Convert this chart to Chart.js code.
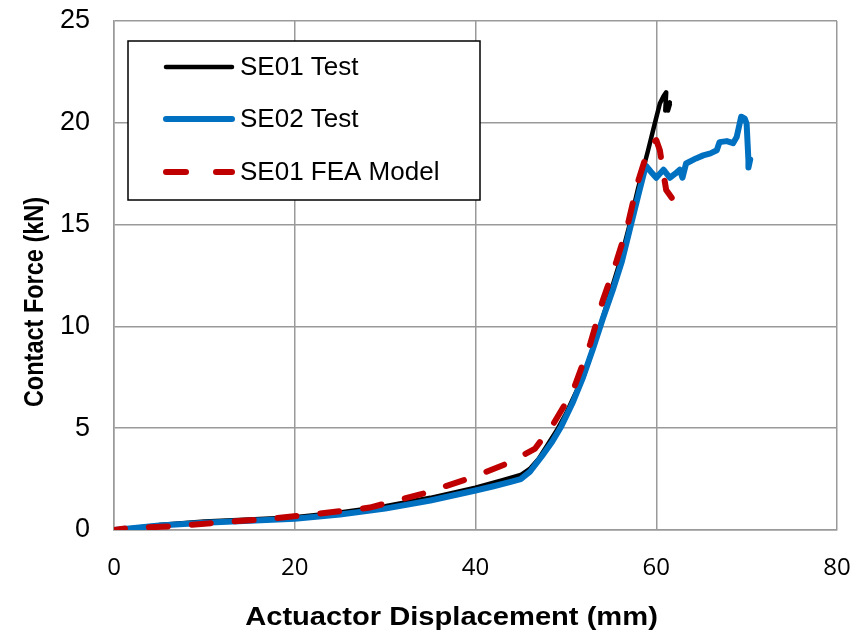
<!DOCTYPE html>
<html>
<head>
<meta charset="utf-8">
<script src="https://cdn.jsdelivr.net/npm/chart.js@4/dist/chart.umd.min.js"></script>
<style>
  html, body { margin: 0; padding: 0; background: #fff; }
  #wrap { width: 858px; height: 631px; }
</style>
</head>
<body>
<div id="wrap"><canvas id="c" width="858" height="631"></canvas></div>
<script>
// ---- Data ----
const seriesNames = ["SE01 Test", "SE02 Test", "SE01 FEA Model"];

const se01TestX = [0, 5, 10, 15, 20, 25, 30, 35, 40, 43, 45, 46, 47, 48, 49, 50, 52, 54, 56, 57, 58, 59.1, 59.8, 60.4, 60.8, 61.1, 61.0, 61.5, 61.3, 61.5];
const se01TestY = [0, 0.24, 0.42, 0.52, 0.63, 0.86, 1.17, 1.58, 2.08, 2.45, 2.7, 3.0, 3.5, 4.2, 4.9, 5.7, 7.6, 10.3, 13.2, 14.9, 16.8, 18.65, 19.9, 20.95, 21.3, 21.5, 20.6, 21.0, 20.6, 20.9];

const se02TestX = [0, 5, 10, 15, 20, 25, 30, 35, 40, 42, 44, 45, 46, 47.3, 48.5, 49.5, 50.7, 51.9, 53, 54.1, 55.2, 56.2, 57.4, 58.1, 58.85, 59.4, 60.0, 60.8, 61.5, 62.1, 62.6, 62.9, 63.3, 64.4, 65.2, 66.0, 66.7, 67.0, 67.8, 68.5, 68.9, 69.4, 69.8, 70.0, 70.2, 70.2, 70.4];
const se02TestY = [0, 0.22, 0.36, 0.46, 0.55, 0.76, 1.05, 1.45, 1.94, 2.15, 2.38, 2.5, 2.85, 3.6, 4.35, 5.1, 6.2, 7.5, 8.9, 10.4, 11.8, 13.2, 15.35, 16.6, 17.9, 17.6, 17.3, 17.7, 17.3, 17.5, 17.7, 17.3, 18.0, 18.25, 18.4, 18.5, 18.65, 19.05, 19.1, 19.0, 19.3, 20.3, 20.2, 19.95, 18.15, 17.8, 18.2];

const se01FeaX = [0, 1.2, 6.5, 12, 17.5, 22.8, 28.3, 34.2, 39.6, 43.7, 46.6, 48.6, 50.8, 52.7, 54.1, 55.6, 56.8, 57.9, 58.9, 59.6, 60.0, 60.4, 60.8, 61.1, 61.9, 62.6, 63.0];
const se01FeaY = [0, 0.07, 0.19, 0.38, 0.56, 0.81, 1.1, 1.79, 2.58, 3.3, 4.0, 5.2, 6.85, 9.15, 11.3, 13.2, 14.9, 17.0, 18.4, 19.0, 19.15, 18.65, 17.5, 16.7, 16.2, 16.35, 16.7];

const xTicks = [0, 20, 40, 60, 80];
const yTicks = [0, 5, 10, 15, 20, 25];
const xTitle = "Actuactor Displacement (mm)";
const yTitle = "Contact Force (kN)";

// ---- Build ----
const pts = (xs, ys) => xs.map((x, i) => ({ x: x, y: ys[i] }));
const GRID = '#9a9a9a';

const legendPlugin = {
  id: 'insideLegend',
  afterDraw(chart) {
    const ctx = chart.ctx;
    ctx.save();
    // legend box
    ctx.fillStyle = '#fff';
    ctx.fillRect(128, 41, 352, 159);
    ctx.strokeStyle = '#000';
    ctx.lineWidth = 1.5;
    ctx.strokeRect(128, 41, 352, 159);
    const rows = [67, 119, 172];
    chart.data.datasets.forEach((ds, i) => {
      const y = rows[i];
      ctx.beginPath();
      ctx.strokeStyle = ds.borderColor;
      ctx.lineWidth = ds.borderWidth;
      ctx.lineCap = 'round';
      if (ds.borderDash) {
        ctx.moveTo(166, y); ctx.lineTo(186, y);
        ctx.moveTo(216, y); ctx.lineTo(232, y);
      } else {
        ctx.moveTo(166, y); ctx.lineTo(232, y);
      }
      ctx.stroke();
      ctx.fillStyle = '#000';
      ctx.font = '26px "Liberation Sans", Arial, sans-serif';
      ctx.textBaseline = 'middle';
      ctx.textAlign = 'left';
      ctx.fillText(ds.label, 240, y + 1);
    });
    // axis titles (reference is slightly stretched horizontally)
    ctx.fillStyle = '#000';
    ctx.font = 'bold 25px "Liberation Sans", Arial, sans-serif';
    ctx.textAlign = 'center';
    ctx.textBaseline = 'alphabetic';
    ctx.save();
    ctx.translate(451.5, 625);
    ctx.scale(1.165, 1);
    ctx.fillText(xTitle, 0, 0);
    ctx.restore();
    ctx.save();
    ctx.translate(43, 302);
    ctx.scale(1.2, 1);
    ctx.rotate(-Math.PI / 2);
    ctx.font = 'bold 23.5px "Liberation Sans", Arial, sans-serif';
    ctx.fillText(yTitle, 0, 0);
    ctx.restore();
    ctx.restore();
  }
};

new Chart(document.getElementById('c'), {
  type: 'scatter',
  data: {
    datasets: [
      { label: seriesNames[0], data: pts(se01TestX, se01TestY), borderColor: '#000000', backgroundColor: '#000000', borderWidth: 4.5, showLine: true, pointRadius: 0, tension: 0, order: 3, borderCapStyle: 'round', borderJoinStyle: 'round' },
      { label: seriesNames[1], data: pts(se02TestX, se02TestY), borderColor: '#0070C0', backgroundColor: '#0070C0', borderWidth: 6, showLine: true, pointRadius: 0, tension: 0, order: 2, borderCapStyle: 'round', borderJoinStyle: 'round' },
      { label: seriesNames[2], data: pts(se01FeaX, se01FeaY), borderColor: '#C00000', backgroundColor: '#C00000', borderWidth: 6, showLine: true, pointRadius: 0, tension: 0, order: 1, borderDash: [19, 24], borderDashOffset: 8, borderCapStyle: 'round', borderJoinStyle: 'round' }
    ]
  },
  options: {
    responsive: false,
    animation: false,
    layout: { padding: { top: 21, right: 21, left: 0, bottom: 0 } },
    plugins: { legend: { display: false }, tooltip: { enabled: false } },
    scales: {
      x: {
        type: 'linear', min: 0, max: 80,
        afterBuildTicks: s => { s.ticks = xTicks.map(v => ({ value: v })); },
        ticks: { padding: 24, color: '#000', font: { family: '"Open Sans", sans-serif', size: 24 } },
        grid: { color: GRID, lineWidth: 1.5, drawTicks: false },
        border: { color: GRID, width: 1.5 },
        afterFit: s => { s.height = 101; s.paddingLeft = 0; s.paddingRight = 0; s.paddingTop = 0; s.paddingBottom = 0; }
      },
      y: {
        type: 'linear', min: 0, max: 25,
        afterBuildTicks: s => { s.ticks = yTicks.map(v => ({ value: v })); },
        ticks: { padding: 24, color: '#000', font: { family: '"Liberation Sans", Arial, sans-serif', size: 27 } },
        grid: { color: GRID, lineWidth: 1.5, drawTicks: false },
        border: { color: GRID, width: 1.5 },
        afterFit: s => { s.width = 114; s.paddingLeft = 0; s.paddingRight = 0; s.paddingTop = 0; s.paddingBottom = 0; }
      }
    }
  },
  plugins: [legendPlugin]
});
</script>
</body>
</html>
